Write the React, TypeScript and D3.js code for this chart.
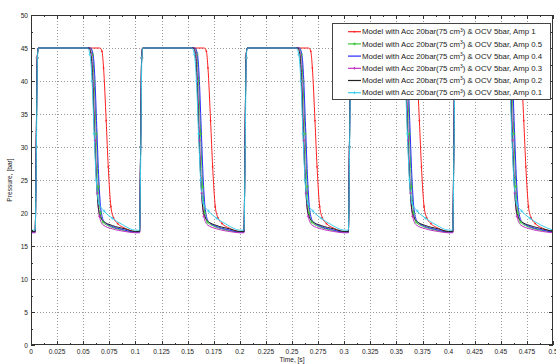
import React from 'react';
import * as d3 from 'd3';

const width = 556;
const height = 364;
const margin = { top: 15, right: 3, bottom: 19, left: 31 };

// pulse train: a new pulse every 0.1 s, run ends at 0.5 s
const pulseStarts = [0, 0.1, 0.2, 0.3, 0.4];
const runEnd = 0.5;

// one pulse per run: [time since pulse start (s), pressure (bar)]
const pulseAmp1: [number, number][] = [
  [0, 17.2], [0.004, 17.2], [0.005, 30], [0.006, 43.5], [0.007, 45],
  [0.066, 45], [0.068, 44.5], [0.0695, 42], [0.072, 34], [0.074, 27],
  [0.0765, 21], [0.079, 19.3], [0.083, 18.4], [0.09, 17.7],
];
const pulseAmp05: [number, number][] = [
  [0, 17.1], [0.004, 17.1], [0.005, 30], [0.006, 43.5], [0.007, 45],
  [0.057, 45], [0.059, 44], [0.0605, 40], [0.0625, 32], [0.0645, 24],
  [0.0665, 20], [0.069, 18.6], [0.075, 18.0], [0.085, 17.5],
];
const pulseAmp04: [number, number][] = [
  [0, 17.1], [0.004, 17.1], [0.005, 30], [0.006, 43.5], [0.007, 45],
  [0.057, 45], [0.0595, 44], [0.061, 41], [0.063, 33], [0.065, 25],
  [0.067, 20.5], [0.07, 18.7], [0.077, 18.0], [0.088, 17.5],
];
const pulseAmp03: [number, number][] = [
  [0, 17.0], [0.004, 17.0], [0.005, 30], [0.006, 43.5], [0.007, 45],
  [0.056, 45], [0.058, 44], [0.0595, 40], [0.0615, 31], [0.0635, 23],
  [0.0655, 19.5], [0.069, 18.2], [0.078, 17.6], [0.09, 17.2],
];
const pulseAmp02: [number, number][] = [
  [0, 17.2], [0.004, 17.2], [0.005, 30], [0.006, 43.5], [0.007, 45],
  [0.0555, 45], [0.0575, 44], [0.059, 40], [0.061, 31], [0.063, 24],
  [0.065, 20.3], [0.069, 18.8], [0.078, 18.1], [0.09, 17.6],
];
const pulseAmp01: [number, number][] = [
  [0, 17.4], [0.004, 17.4], [0.0052, 30], [0.0062, 43.5], [0.0072, 45],
  [0.054, 45], [0.0565, 44], [0.0585, 40], [0.0605, 32], [0.0625, 25],
  [0.065, 21.5], [0.07, 20.3], [0.078, 19.2], [0.088, 18.2],
];

const runNames = ['Amp 1', 'Amp 0.5', 'Amp 0.4', 'Amp 0.3', 'Amp 0.2', 'Amp 0.1'];
const runPulses = [pulseAmp1, pulseAmp05, pulseAmp04, pulseAmp03, pulseAmp02, pulseAmp01];
const runColors = ['#ff2020', '#3cc43c', '#2a2aff', '#c030c0', '#222222', '#38cdee'];
// marker style per run, as in the legend ('' = none)
const runMarkers = ['dot', 'star', '', 'plus', '', 'plus'];

const xTicks = [0, 0.025, 0.05, 0.075, 0.1, 0.125, 0.15, 0.175, 0.2, 0.225, 0.25,
  0.275, 0.3, 0.325, 0.35, 0.375, 0.4, 0.425, 0.45, 0.475, 0.5];
const xTickLabels = ['0', '0.025', '0.05', '0.075', '0.1', '0.125', '0.15', '0.175', '0.2',
  '0.225', '0.25', '0.275', '0.3', '0.325', '0.35', '0.375', '0.4', '0.425', '0.45', '0.475', '0.5'];
const yTicks = [0, 5, 10, 15, 20, 25, 30, 35, 40, 45, 50];

const font = 'Liberation Sans, Arial, sans-serif';

function Marker({ kind, cx, cy, color }: { kind: string; cx: number; cy: number; color: string }) {
  if (kind === 'dot') return <circle cx={cx} cy={cy} r={0.9} fill={color} />;
  if (kind === 'plus') return (
    <path d={`M${cx - 1.5},${cy}H${cx + 1.5}M${cx},${cy - 1.5}V${cy + 1.5}`} stroke={color} strokeWidth={0.7} />
  );
  if (kind === 'star') return (
    <path d={`M${cx - 1.5},${cy}H${cx + 1.5}M${cx},${cy - 1.5}V${cy + 1.5}M${cx - 1.1},${cy - 1.1}L${cx + 1.1},${cy + 1.1}M${cx - 1.1},${cy + 1.1}L${cx + 1.1},${cy - 1.1}`}
      stroke={color} strokeWidth={0.6} />
  );
  return null;
}

export default function App() {
  const innerW = width - margin.left - margin.right;
  const innerH = height - margin.top - margin.bottom;

  const x = d3.scaleLinear().domain([0, 0.5]).range([margin.left, margin.left + innerW]);
  const y = d3.scaleLinear().domain([0, 50]).range([margin.top + innerH, margin.top]);

  const line = d3.line<[number, number]>()
    .x(d => x(d[0]))
    .y(d => y(d[1]))
    .curve(d3.curveMonotoneX);

  // chain the pulses of each run into one trace
  const traces = runPulses.map(pulse => {
    const pts: [number, number][] = [];
    pulseStarts.forEach(t0 => pulse.forEach(([dt, p]) => pts.push([t0 + dt, p])));
    pts.push([runEnd, pulse[0][1]]);
    return pts;
  });

  const x0 = margin.left, x1 = margin.left + innerW;
  const y0 = margin.top + innerH, y1 = margin.top;

  const xMinor = xTicks.slice(0, -1).map((t, i) => (t + xTicks[i + 1]) / 2);
  const yMinor = yTicks.slice(0, -1).map((t, i) => (t + yTicks[i + 1]) / 2);

  const legX = 332, legY = 23, legW = 218, rowH = 12.2;

  return (
    <svg width={width} height={height} style={{ position: 'absolute', left: 0, top: 0, background: '#fff' }}
      fontFamily={font}>
      <rect width={width} height={height} fill="#fff" />

      {/* grid */}
      <g stroke="#9a9a9a" strokeWidth={1} strokeDasharray="1,2">
        {xTicks.slice(1, -1).map(t => (
          <line key={'gx' + t} x1={Math.round(x(t)) + 0.5} x2={Math.round(x(t)) + 0.5} y1={y1} y2={y0} />
        ))}
        {yTicks.slice(1, -1).map(t => (
          <line key={'gy' + t} x1={x0} x2={x1} y1={Math.round(y(t)) + 0.5} y2={Math.round(y(t)) + 0.5} />
        ))}
      </g>

      {/* runs */}
      <g fill="none" strokeWidth={1} strokeLinejoin="round">
        {traces.map((pts, i) => (
          <path key={runNames[i]} d={line(pts) || ''} stroke={runColors[i]} />
        ))}
      </g>
      <g>
        {traces.map((pts, i) => runMarkers[i] ? pts
          .filter(d => d[1] > 18.3 && d[1] < 44.8)
          .map((d, j) => (
            <Marker key={runNames[i] + j} kind={runMarkers[i]} cx={x(d[0])} cy={y(d[1])} color={runColors[i]} />
          )) : null)}
      </g>

      {/* axes box and ticks */}
      <rect x={x0 + 0.5} y={y1 + 0.5} width={innerW - 1} height={innerH - 1} fill="none" stroke="#333" strokeWidth={1} />
      <g stroke="#333" strokeWidth={1}>
        {xTicks.map(t => {
          const px = Math.round(x(t)) + 0.5;
          return (
            <g key={'tx' + t}>
              <line x1={px} x2={px} y1={y0} y2={y0 - 4} />
              <line x1={px} x2={px} y1={y1} y2={y1 + 4} />
            </g>
          );
        })}
        {xMinor.map(t => {
          const px = Math.round(x(t)) + 0.5;
          return (
            <g key={'mx' + t}>
              <line x1={px} x2={px} y1={y0} y2={y0 - 2} />
              <line x1={px} x2={px} y1={y1} y2={y1 + 2} />
            </g>
          );
        })}
        {yTicks.map(t => {
          const py = Math.round(y(t)) + 0.5;
          return (
            <g key={'ty' + t}>
              <line x1={x0} x2={x0 + 4} y1={py} y2={py} />
              <line x1={x1} x2={x1 - 4} y1={py} y2={py} />
            </g>
          );
        })}
        {yMinor.map(t => {
          const py = Math.round(y(t)) + 0.5;
          return (
            <g key={'my' + t}>
              <line x1={x0} x2={x0 + 2} y1={py} y2={py} />
              <line x1={x1} x2={x1 - 2} y1={py} y2={py} />
            </g>
          );
        })}
      </g>

      {/* tick labels */}
      <g fontSize={6.6} fill="#222">
        {xTicks.map((t, i) => (
          <text key={'lx' + t} x={x(t)} y={y0 + 9} textAnchor="middle">{xTickLabels[i]}</text>
        ))}
        {yTicks.map(t => (
          <text key={'ly' + t} x={x0 - 3} y={y(t) + 2.5} textAnchor="end">{t}</text>
        ))}
      </g>

      {/* axis titles */}
      <text x={(x0 + x1) / 2} y={y0 + 17} textAnchor="middle" fontSize={6.6} fill="#222">Time, [s]</text>
      <text transform={`translate(12,${(y0 + y1) / 2}) rotate(-90)`} textAnchor="middle" fontSize={6.6} fill="#222">
        Pressure, [bar]
      </text>

      {/* legend */}
      <rect x={legX + 0.5} y={legY + 0.5} width={legW} height={76} fill="#fff" stroke="#444" strokeWidth={1} />
      {runNames.map((name, i) => {
        const ry = legY + 8.7 + i * rowH;
        return (
          <g key={'leg' + name}>
            <line x1={legX + 16} x2={legX + 29} y1={ry} y2={ry} stroke={runColors[i]} strokeWidth={1.2} />
            <Marker kind={runMarkers[i]} cx={legX + 22.5} cy={ry} color={runColors[i]} />
            <text x={legX + 30} y={ry + 2.7} fontSize={7.8} fill="#222">
              Model with Acc 20bar(75 cm<tspan dy={-2.8} fontSize={5}>3</tspan><tspan dy={2.8}>) &amp; OCV 5bar, {name}</tspan>
            </text>
          </g>
        );
      })}
    </svg>
  );
}
